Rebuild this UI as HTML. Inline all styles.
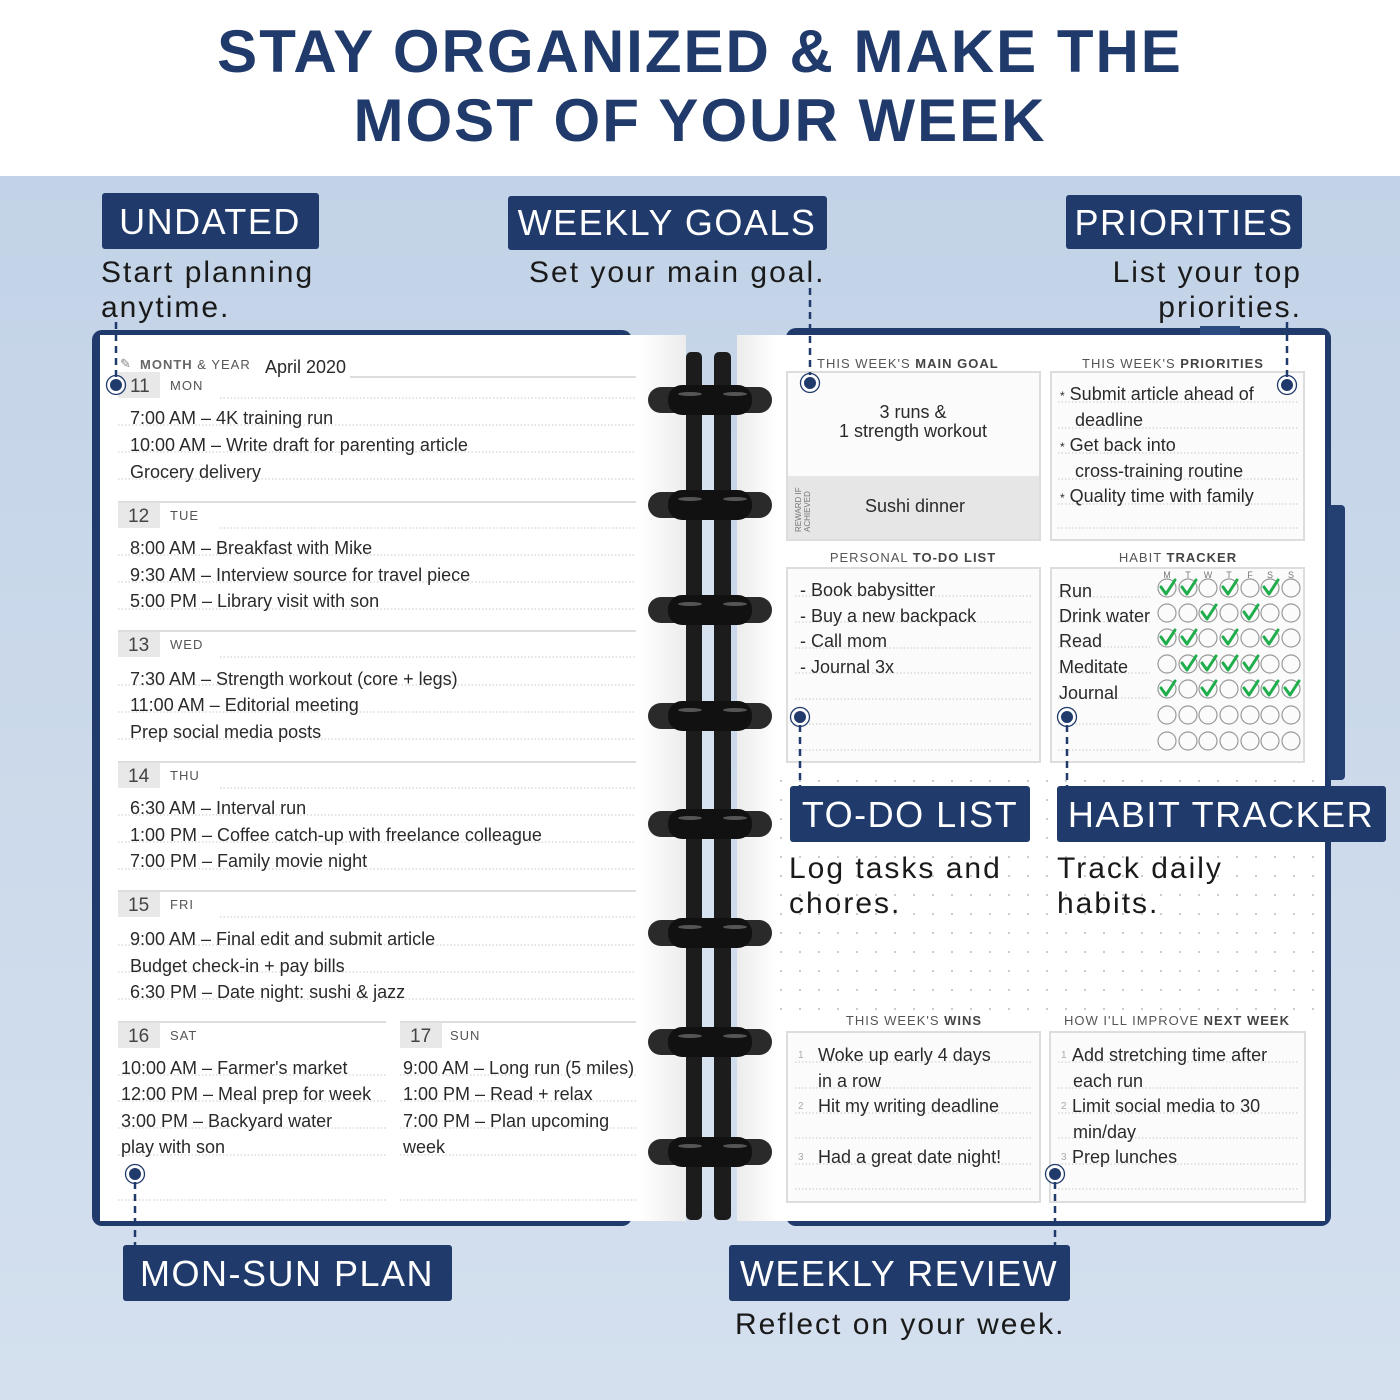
<!DOCTYPE html>
<html><head><meta charset="utf-8"><style>
html,body{margin:0;padding:0;width:1400px;height:1400px;overflow:hidden;background:#fff}
svg{display:block}
.h{font-family:"Liberation Sans",sans-serif;font-size:18px;fill:#2a2a2a}
.lab{font-family:"Liberation Sans",sans-serif;font-size:36px;fill:#fff;letter-spacing:1.5px}
.cap{font-family:"Liberation Sans",sans-serif;font-size:30px;fill:#1a1a1a;letter-spacing:2px}
.sm{font-family:"Liberation Sans",sans-serif;font-size:13px;fill:#555;letter-spacing:1px}
.dn{font-family:"Liberation Sans",sans-serif;font-size:19px;fill:#444}
.dl{stroke:#c8c8c8;stroke-width:1;stroke-dasharray:1.5 2}
.sep{stroke:#ddd;stroke-width:2}
.dash{stroke:#1f3a6b;stroke-width:2.5;stroke-dasharray:7 5}
</style></head><body>
<svg width="1400" height="1400" viewBox="0 0 1400 1400" xmlns="http://www.w3.org/2000/svg">
<defs>
<linearGradient id="bg" x1="0" y1="0" x2="0" y2="1"><stop offset="0" stop-color="#c3d3e7"/><stop offset="1" stop-color="#d4e0ee"/></linearGradient>
<linearGradient id="shL" x1="0" y1="0" x2="1" y2="0"><stop offset="0" stop-color="#fff"/><stop offset="1" stop-color="#ececec"/></linearGradient>
<linearGradient id="shR" x1="0" y1="0" x2="1" y2="0"><stop offset="0" stop-color="#ececec"/><stop offset="1" stop-color="#fff"/></linearGradient>
<pattern id="dots" width="19" height="19" patternUnits="userSpaceOnUse"><circle cx="2" cy="2" r="1" fill="#bbb"/></pattern>
</defs>
<rect x="0" y="0" width="1400" height="176" fill="#fff"/>
<rect x="0" y="176" width="1400" height="1224" fill="url(#bg)"/>
<g font-family="Liberation Sans,sans-serif" font-weight="bold" font-size="60" fill="#1f3a6b" text-anchor="middle" letter-spacing="2">
<text x="700" y="72">STAY ORGANIZED &amp; MAKE THE</text>
<text x="700" y="141">MOST OF YOUR WEEK</text>
</g>
<!-- covers -->
<rect x="92" y="330" width="540" height="896" rx="10" fill="#1f3a6b"/>
<rect x="786" y="328" width="545" height="898" rx="10" fill="#1f3a6b"/>
<rect x="1328" y="505" width="17" height="275" rx="4" fill="#243f72"/>
<rect x="1200" y="326" width="40" height="10" fill="#2a4a80"/>
<!-- pages -->
<rect x="100" y="335" width="586" height="886" fill="#fff"/>
<rect x="737" y="335" width="588" height="886" fill="#fff"/>
<rect x="640" y="335" width="46" height="886" fill="url(#shL)"/>
<rect x="737" y="335" width="40" height="886" fill="url(#shR)"/>
<!-- left page content -->
<text x="120" y="368" font-family="Liberation Sans" font-size="13" fill="#888">✎</text>
<text x="140" y="369" class="sm" font-size="14"><tspan font-weight="bold" fill="#666">MONTH</tspan> &amp; YEAR</text>
<text x="265" y="373" class="h" font-size="19">April 2020</text>
<line x1="350" y1="377" x2="636" y2="377" class="sep"/>
<g>
<rect x="118" y="372" width="42" height="26" fill="#e8e8e8"/><text x="130" y="392" class="dn">11</text><text x="170" y="390" class="sm" font-size="14">MON</text>
<rect x="118" y="502" width="42" height="26" fill="#e8e8e8"/><text x="128" y="522" class="dn">12</text><text x="170" y="520" class="sm" font-size="14">TUE</text>
<rect x="118" y="631" width="42" height="26" fill="#e8e8e8"/><text x="128" y="651" class="dn">13</text><text x="170" y="649" class="sm" font-size="14">WED</text>
<rect x="118" y="762" width="42" height="26" fill="#e8e8e8"/><text x="128" y="782" class="dn">14</text><text x="170" y="780" class="sm" font-size="14">THU</text>
<rect x="118" y="891" width="42" height="26" fill="#e8e8e8"/><text x="128" y="911" class="dn">15</text><text x="170" y="909" class="sm" font-size="14">FRI</text>
<rect x="118" y="1022" width="42" height="26" fill="#e8e8e8"/><text x="128" y="1042" class="dn">16</text><text x="170" y="1040" class="sm" font-size="14">SAT</text>
<rect x="400" y="1022" width="42" height="26" fill="#e8e8e8"/><text x="410" y="1042" class="dn">17</text><text x="450" y="1040" class="sm" font-size="14">SUN</text>
<g class="sep"><line x1="118" y1="502" x2="636" y2="502"/><line x1="118" y1="631" x2="636" y2="631"/><line x1="118" y1="762" x2="636" y2="762"/><line x1="118" y1="891" x2="636" y2="891"/><line x1="118" y1="1022" x2="386" y2="1022"/><line x1="400" y1="1022" x2="636" y2="1022"/></g>
<g class="dl">
<line x1="220" y1="398" x2="636" y2="398"/><line x1="118" y1="425" x2="636" y2="425"/><line x1="118" y1="452" x2="636" y2="452"/><line x1="118" y1="479" x2="636" y2="479"/>
<line x1="220" y1="528" x2="636" y2="528"/><line x1="118" y1="555" x2="636" y2="555"/><line x1="118" y1="582" x2="636" y2="582"/><line x1="118" y1="609" x2="636" y2="609"/>
<line x1="220" y1="657" x2="636" y2="657"/><line x1="118" y1="685" x2="636" y2="685"/><line x1="118" y1="712" x2="636" y2="712"/><line x1="118" y1="739" x2="636" y2="739"/>
<line x1="220" y1="788" x2="636" y2="788"/><line x1="118" y1="815" x2="636" y2="815"/><line x1="118" y1="842" x2="636" y2="842"/><line x1="118" y1="869" x2="636" y2="869"/>
<line x1="220" y1="917" x2="636" y2="917"/><line x1="118" y1="945" x2="636" y2="945"/><line x1="118" y1="972" x2="636" y2="972"/><line x1="118" y1="999" x2="636" y2="999"/>
<line x1="118" y1="1075" x2="386" y2="1075"/><line x1="118" y1="1101" x2="386" y2="1101"/><line x1="118" y1="1128" x2="386" y2="1128"/><line x1="118" y1="1155" x2="386" y2="1155"/><line x1="118" y1="1200" x2="386" y2="1200"/>
<line x1="400" y1="1075" x2="636" y2="1075"/><line x1="400" y1="1101" x2="636" y2="1101"/><line x1="400" y1="1128" x2="636" y2="1128"/><line x1="400" y1="1155" x2="636" y2="1155"/><line x1="400" y1="1200" x2="636" y2="1200"/>
</g>
<text class="h" x="130" y="424">7:00 AM – 4K training run</text>
<text class="h" x="130" y="451">10:00 AM – Write draft for parenting article</text>
<text class="h" x="130" y="478">Grocery delivery</text>
<text class="h" x="130" y="554">8:00 AM – Breakfast with Mike</text>
<text class="h" x="130" y="581">9:30 AM – Interview source for travel piece</text>
<text class="h" x="130" y="607">5:00 PM – Library visit with son</text>
<text class="h" x="130" y="685">7:30 AM – Strength workout (core + legs)</text>
<text class="h" x="130" y="711">11:00 AM – Editorial meeting</text>
<text class="h" x="130" y="738">Prep social media posts</text>
<text class="h" x="130" y="814">6:30 AM – Interval run</text>
<text class="h" x="130" y="841">1:00 PM – Coffee catch-up with freelance colleague</text>
<text class="h" x="130" y="867">7:00 PM – Family movie night</text>
<text class="h" x="130" y="945">9:00 AM – Final edit and submit article</text>
<text class="h" x="130" y="972">Budget check-in + pay bills</text>
<text class="h" x="130" y="998">6:30 PM – Date night: sushi &amp; jazz</text>
<text class="h" x="121" y="1074" font-size="17">10:00 AM – Farmer's market</text>
<text class="h" x="121" y="1100" font-size="17">12:00 PM – Meal prep for week</text>
<text class="h" x="121" y="1127" font-size="17">3:00 PM – Backyard water</text>
<text class="h" x="121" y="1153" font-size="17">play with son</text>
<text class="h" x="403" y="1074" font-size="17">9:00 AM – Long run (5 miles)</text>
<text class="h" x="403" y="1100" font-size="17">1:00 PM – Read + relax</text>
<text class="h" x="403" y="1127" font-size="17">7:00 PM – Plan upcoming</text>
<text class="h" x="403" y="1153" font-size="17">week</text>
</g>
<!-- right page -->
<text x="817" y="368" class="sm">THIS WEEK'S <tspan font-weight="bold" fill="#444">MAIN GOAL</tspan></text>
<text x="1082" y="368" class="sm">THIS WEEK'S <tspan font-weight="bold" fill="#444">PRIORITIES</tspan></text>
<rect x="787" y="372" width="253" height="168" fill="#fbfbfb" stroke="#ddd" stroke-width="2"/>
<rect x="788" y="476" width="251" height="63" fill="#e6e6e6"/>
<text x="801" y="532" transform="rotate(-90 801 532)" font-family="Liberation Sans" font-size="8" fill="#777">REWARD IF</text>
<text x="810" y="532" transform="rotate(-90 810 532)" font-family="Liberation Sans" font-size="8" fill="#777">ACHIEVED</text>
<text class="h" x="913" y="418" text-anchor="middle">3 runs &amp;</text>
<text class="h" x="913" y="437" text-anchor="middle">1 strength workout</text>
<text class="h" x="915" y="512" text-anchor="middle">Sushi dinner</text>
<rect x="1051" y="372" width="253" height="168" fill="#fbfbfb" stroke="#ddd" stroke-width="2"/>
<g class="dl"><line x1="1058" y1="402" x2="1298" y2="402"/><line x1="1058" y1="428" x2="1298" y2="428"/><line x1="1058" y1="453" x2="1298" y2="453"/><line x1="1058" y1="479" x2="1298" y2="479"/><line x1="1058" y1="504" x2="1298" y2="504"/><line x1="1058" y1="528" x2="1298" y2="528"/></g>
<text class="h" x="1060" y="400"><tspan font-size="12">*</tspan> Submit article ahead of</text>
<text class="h" x="1075" y="426">deadline</text>
<text class="h" x="1060" y="451"><tspan font-size="12">*</tspan> Get back into</text>
<text class="h" x="1075" y="477" font-size="17">cross-training routine</text>
<text class="h" x="1060" y="502"><tspan font-size="12">*</tspan> Quality time with family</text>
<text x="913" y="562" class="sm" text-anchor="middle">PERSONAL <tspan font-weight="bold" fill="#444">TO-DO LIST</tspan></text>
<text x="1178" y="562" class="sm" text-anchor="middle">HABIT <tspan font-weight="bold" fill="#444">TRACKER</tspan></text>
<rect x="787" y="568" width="253" height="194" fill="#fbfbfb" stroke="#ddd" stroke-width="2"/>
<rect x="1051" y="568" width="253" height="194" fill="#fbfbfb" stroke="#ddd" stroke-width="2"/>
<g class="dl"><line x1="795" y1="596" x2="1032" y2="596"/><line x1="795" y1="622" x2="1032" y2="622"/><line x1="795" y1="648" x2="1032" y2="648"/><line x1="795" y1="673" x2="1032" y2="673"/><line x1="795" y1="699" x2="1032" y2="699"/><line x1="795" y1="724" x2="1032" y2="724"/><line x1="795" y1="750" x2="1032" y2="750"/>
<line x1="1058" y1="597" x2="1150" y2="597"/><line x1="1058" y1="622" x2="1150" y2="622"/><line x1="1058" y1="647" x2="1150" y2="647"/><line x1="1058" y1="673" x2="1150" y2="673"/><line x1="1058" y1="698" x2="1150" y2="698"/><line x1="1058" y1="724" x2="1150" y2="724"/><line x1="1058" y1="750" x2="1150" y2="750"/></g>
<text class="h" x="800" y="596">- Book babysitter</text>
<text class="h" x="800" y="622">- Buy a new backpack</text>
<text class="h" x="800" y="647">- Call mom</text>
<text class="h" x="800" y="673">- Journal 3x</text>
<text class="h" x="1059" y="597">Run</text>
<text class="h" x="1059" y="622">Drink water</text>
<text class="h" x="1059" y="647">Read</text>
<text class="h" x="1059" y="673">Meditate</text>
<text class="h" x="1059" y="699">Journal</text>
<g font-family="Liberation Sans" font-size="9" fill="#777" text-anchor="middle">
<text x="1167" y="578">M</text><text x="1188" y="578">T</text><text x="1208" y="578">W</text><text x="1229" y="578">T</text><text x="1250" y="578">F</text><text x="1270" y="578">S</text><text x="1291" y="578">S</text></g>
<g fill="none" stroke="#999" stroke-width="1.2">
<circle cx="1167" cy="588" r="9"/><circle cx="1188" cy="588" r="9"/><circle cx="1208" cy="588" r="9"/><circle cx="1229" cy="588" r="9"/><circle cx="1250" cy="588" r="9"/><circle cx="1270" cy="588" r="9"/><circle cx="1291" cy="588" r="9"/>
<circle cx="1167" cy="613" r="9"/><circle cx="1188" cy="613" r="9"/><circle cx="1208" cy="613" r="9"/><circle cx="1229" cy="613" r="9"/><circle cx="1250" cy="613" r="9"/><circle cx="1270" cy="613" r="9"/><circle cx="1291" cy="613" r="9"/>
<circle cx="1167" cy="638" r="9"/><circle cx="1188" cy="638" r="9"/><circle cx="1208" cy="638" r="9"/><circle cx="1229" cy="638" r="9"/><circle cx="1250" cy="638" r="9"/><circle cx="1270" cy="638" r="9"/><circle cx="1291" cy="638" r="9"/>
<circle cx="1167" cy="664" r="9"/><circle cx="1188" cy="664" r="9"/><circle cx="1208" cy="664" r="9"/><circle cx="1229" cy="664" r="9"/><circle cx="1250" cy="664" r="9"/><circle cx="1270" cy="664" r="9"/><circle cx="1291" cy="664" r="9"/>
<circle cx="1167" cy="689" r="9"/><circle cx="1188" cy="689" r="9"/><circle cx="1208" cy="689" r="9"/><circle cx="1229" cy="689" r="9"/><circle cx="1250" cy="689" r="9"/><circle cx="1270" cy="689" r="9"/><circle cx="1291" cy="689" r="9"/>
<circle cx="1167" cy="715" r="9"/><circle cx="1188" cy="715" r="9"/><circle cx="1208" cy="715" r="9"/><circle cx="1229" cy="715" r="9"/><circle cx="1250" cy="715" r="9"/><circle cx="1270" cy="715" r="9"/><circle cx="1291" cy="715" r="9"/>
<circle cx="1167" cy="741" r="9"/><circle cx="1188" cy="741" r="9"/><circle cx="1208" cy="741" r="9"/><circle cx="1229" cy="741" r="9"/><circle cx="1250" cy="741" r="9"/><circle cx="1270" cy="741" r="9"/><circle cx="1291" cy="741" r="9"/>
</g>
<g fill="none" stroke="#1fae4b" stroke-width="3" stroke-linecap="round" stroke-linejoin="round">
<path d="M1161 587l5 7l9-14M1182 587l5 7l9-14M1223 587l5 7l9-14M1264 587l5 7l9-14"/>
<path d="M1202 612l5 7l9-14M1244 612l5 7l9-14"/>
<path d="M1161 637l5 7l9-14M1182 637l5 7l9-14M1223 637l5 7l9-14M1264 637l5 7l9-14"/>
<path d="M1182 663l5 7l9-14M1202 663l5 7l9-14M1223 663l5 7l9-14M1244 663l5 7l9-14"/>
<path d="M1161 688l5 7l9-14M1202 688l5 7l9-14M1244 688l5 7l9-14M1264 688l5 7l9-14M1285 688l5 7l9-14"/>
</g>
<rect x="778" y="780" width="542" height="230" fill="url(#dots)"/>
<text x="914" y="1025" class="sm" text-anchor="middle">THIS WEEK'S <tspan font-weight="bold" fill="#444">WINS</tspan></text>
<text x="1177" y="1025" class="sm" text-anchor="middle">HOW I'LL IMPROVE <tspan font-weight="bold" fill="#444">NEXT WEEK</tspan></text>
<rect x="787" y="1032" width="253" height="170" fill="#fbfbfb" stroke="#ddd" stroke-width="2"/>
<rect x="1050" y="1032" width="255" height="170" fill="#fbfbfb" stroke="#ddd" stroke-width="2"/>
<g class="dl"><line x1="795" y1="1062" x2="1032" y2="1062"/><line x1="795" y1="1088" x2="1032" y2="1088"/><line x1="795" y1="1113" x2="1032" y2="1113"/><line x1="795" y1="1138" x2="1032" y2="1138"/><line x1="795" y1="1164" x2="1032" y2="1164"/><line x1="795" y1="1189" x2="1032" y2="1189"/>
<line x1="1058" y1="1062" x2="1298" y2="1062"/><line x1="1058" y1="1088" x2="1298" y2="1088"/><line x1="1058" y1="1113" x2="1298" y2="1113"/><line x1="1058" y1="1138" x2="1298" y2="1138"/><line x1="1058" y1="1164" x2="1298" y2="1164"/><line x1="1058" y1="1189" x2="1298" y2="1189"/></g>
<g font-family="Liberation Sans" font-size="10" fill="#aaa"><text x="798" y="1058">1</text><text x="798" y="1109">2</text><text x="798" y="1160">3</text><text x="1061" y="1058">1</text><text x="1061" y="1109">2</text><text x="1061" y="1160">3</text></g>
<text class="h" x="818" y="1061">Woke up early 4 days</text>
<text class="h" x="818" y="1087" font-size="15">in a row</text>
<text class="h" x="818" y="1112">Hit my writing deadline</text>
<text class="h" x="818" y="1163">Had a great date night!</text>
<text class="h" x="1072" y="1061">Add stretching time after</text>
<text class="h" x="1073" y="1087" font-size="16">each run</text>
<text class="h" x="1072" y="1112">Limit social media to 30</text>
<text class="h" x="1073" y="1138" font-size="16">min/day</text>
<text class="h" x="1072" y="1163">Prep lunches</text>
<!-- spine bars -->
<rect x="686" y="352" width="16" height="868" rx="5" fill="#1c1c1c"/>
<rect x="714" y="352" width="17" height="868" rx="5" fill="#1c1c1c"/>
<rect x="702" y="410" width="12" height="800" fill="#d6e2ef"/>
<!-- rings -->
<g>
<g transform="translate(0,400)"><rect x="648" y="-13" width="124" height="26" rx="13" fill="#2a2a2a"/><rect x="668" y="-15" width="84" height="30" rx="14" fill="#111"/><ellipse cx="690" cy="-6" rx="12" ry="2" fill="#555"/><ellipse cx="735" cy="-6" rx="12" ry="2" fill="#555"/></g>
<g transform="translate(0,505)"><rect x="648" y="-13" width="124" height="26" rx="13" fill="#2a2a2a"/><rect x="668" y="-15" width="84" height="30" rx="14" fill="#111"/><ellipse cx="690" cy="-6" rx="12" ry="2" fill="#555"/><ellipse cx="735" cy="-6" rx="12" ry="2" fill="#555"/></g>
<g transform="translate(0,610)"><rect x="648" y="-13" width="124" height="26" rx="13" fill="#2a2a2a"/><rect x="668" y="-15" width="84" height="30" rx="14" fill="#111"/><ellipse cx="690" cy="-6" rx="12" ry="2" fill="#555"/><ellipse cx="735" cy="-6" rx="12" ry="2" fill="#555"/></g>
<g transform="translate(0,716)"><rect x="648" y="-13" width="124" height="26" rx="13" fill="#2a2a2a"/><rect x="668" y="-15" width="84" height="30" rx="14" fill="#111"/><ellipse cx="690" cy="-6" rx="12" ry="2" fill="#555"/><ellipse cx="735" cy="-6" rx="12" ry="2" fill="#555"/></g>
<g transform="translate(0,824)"><rect x="648" y="-13" width="124" height="26" rx="13" fill="#2a2a2a"/><rect x="668" y="-15" width="84" height="30" rx="14" fill="#111"/><ellipse cx="690" cy="-6" rx="12" ry="2" fill="#555"/><ellipse cx="735" cy="-6" rx="12" ry="2" fill="#555"/></g>
<g transform="translate(0,933)"><rect x="648" y="-13" width="124" height="26" rx="13" fill="#2a2a2a"/><rect x="668" y="-15" width="84" height="30" rx="14" fill="#111"/><ellipse cx="690" cy="-6" rx="12" ry="2" fill="#555"/><ellipse cx="735" cy="-6" rx="12" ry="2" fill="#555"/></g>
<g transform="translate(0,1042)"><rect x="648" y="-13" width="124" height="26" rx="13" fill="#2a2a2a"/><rect x="668" y="-15" width="84" height="30" rx="14" fill="#111"/><ellipse cx="690" cy="-6" rx="12" ry="2" fill="#555"/><ellipse cx="735" cy="-6" rx="12" ry="2" fill="#555"/></g>
<g transform="translate(0,1152)"><rect x="648" y="-13" width="124" height="26" rx="13" fill="#2a2a2a"/><rect x="668" y="-15" width="84" height="30" rx="14" fill="#111"/><ellipse cx="690" cy="-6" rx="12" ry="2" fill="#555"/><ellipse cx="735" cy="-6" rx="12" ry="2" fill="#555"/></g>
</g>
<!-- connectors -->
<g class="dash" fill="none">
<line x1="116" y1="322" x2="116" y2="378"/>
<line x1="810" y1="288" x2="810" y2="376"/>
<line x1="1287" y1="322" x2="1287" y2="378"/>
<line x1="800" y1="725" x2="800" y2="786"/>
<line x1="1067" y1="725" x2="1067" y2="786"/>
<line x1="135" y1="1182" x2="135" y2="1245"/>
<line x1="1055" y1="1182" x2="1055" y2="1245"/>
</g>
<g fill="#1f3a6b" stroke="#fff" stroke-width="2">
<circle cx="116" cy="385" r="7"/><circle cx="810" cy="383" r="7"/><circle cx="1287" cy="385" r="7"/><circle cx="800" cy="717" r="7"/><circle cx="1067" cy="717" r="7"/><circle cx="135" cy="1174" r="7"/><circle cx="1055" cy="1174" r="7"/>
</g>
<g fill="none" stroke="#1f3a6b" stroke-width="1.3">
<circle cx="116" cy="385" r="9.5"/><circle cx="810" cy="383" r="9.5"/><circle cx="1287" cy="385" r="9.5"/><circle cx="800" cy="717" r="9.5"/><circle cx="1067" cy="717" r="9.5"/><circle cx="135" cy="1174" r="9.5"/><circle cx="1055" cy="1174" r="9.5"/>
</g>
<!-- labels -->
<g fill="#1f3a6b">
<rect x="102" y="193" width="217" height="56" rx="3"/>
<rect x="508" y="196" width="319" height="54" rx="3"/>
<rect x="1066" y="195" width="236" height="54" rx="3"/>
<rect x="790" y="786" width="240" height="56" rx="3"/>
<rect x="1057" y="786" width="329" height="56" rx="3"/>
<rect x="123" y="1245" width="329" height="56" rx="3"/>
<rect x="729" y="1245" width="341" height="56" rx="3"/>
</g>
<text class="lab" x="210" y="234" text-anchor="middle">UNDATED</text>
<text class="lab" x="667" y="235" text-anchor="middle">WEEKLY GOALS</text>
<text class="lab" x="1184" y="235" text-anchor="middle">PRIORITIES</text>
<text class="lab" x="910" y="827" text-anchor="middle">TO-DO LIST</text>
<text class="lab" x="1221" y="827" text-anchor="middle">HABIT TRACKER</text>
<text class="lab" x="287" y="1286" text-anchor="middle">MON-SUN PLAN</text>
<text class="lab" x="899" y="1286" text-anchor="middle">WEEKLY REVIEW</text>
<text class="cap" x="101" y="282">Start planning</text>
<text class="cap" x="101" y="317">anytime.</text>
<text class="cap" x="529" y="282">Set your main goal.</text>
<text class="cap" x="1302" y="282" text-anchor="end">List your top</text>
<text class="cap" x="1302" y="317" text-anchor="end">priorities.</text>
<text class="cap" x="789" y="878">Log tasks and</text>
<text class="cap" x="789" y="913">chores.</text>
<text class="cap" x="1057" y="878">Track daily</text>
<text class="cap" x="1057" y="913">habits.</text>
<text class="cap" x="735" y="1334">Reflect on your week.</text>
</svg>
</body></html>
